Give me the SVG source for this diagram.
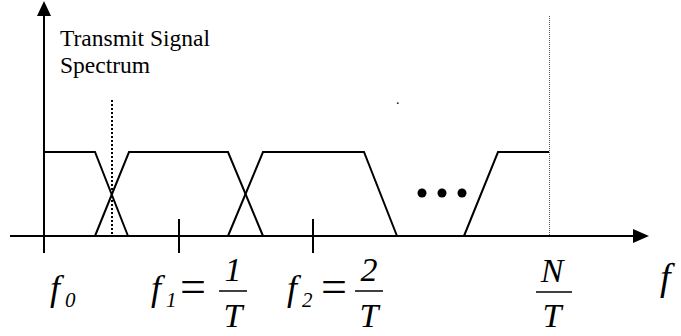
<svg xmlns="http://www.w3.org/2000/svg" width="681" height="336" viewBox="0 0 681 336">
<style>
.ln{fill:none;stroke:#000;stroke-width:2;stroke-linejoin:miter}
text{font-family:Liberation Serif,DejaVu Serif,Noto Serif,serif}
</style>
<rect width="681" height="336" fill="#fff"/>
<g id="axes">
<line class="ln" x1="44" y1="14" x2="44" y2="253"/>
<polygon points="44,1 37,16 51,16" fill="#000"/>
<line class="ln" x1="10" y1="236" x2="635" y2="236"/>
<polygon points="649,236 633,229 633,243" fill="#000"/>
<line class="ln" x1="179" y1="219" x2="179" y2="253"/>
<line class="ln" x1="313" y1="219" x2="313" y2="253"/>
</g>
<g id="guides">
<line x1="112" y1="100" x2="112" y2="236" stroke="#000" stroke-width="2" stroke-dasharray="2 2"/>
<line x1="549.5" y1="16" x2="549.5" y2="236" stroke="#555" stroke-width="1" stroke-dasharray="1 1"/>
</g>
<g id="spectra">
<path class="ln" d="M44,152 L95,152 L128,236"/>
<path class="ln" d="M95,236 L129,152 L228,152 L263,236"/>
<path class="ln" d="M228,236 L263,152 L364,152 L397,236"/>
<path class="ln" d="M464,236 L498,152 L549,152"/>
<circle cx="422" cy="193" r="4.5"/>
<circle cx="442" cy="193" r="4.5"/>
<circle cx="462" cy="193" r="4.5"/>
</g>
<g id="labels" fill="#000">
<text x="60" y="46" font-size="23.5">Transmit Signal</text>
<text x="60" y="73" font-size="23.5">Spectrum</text>
<text x="396" y="104" font-size="14">.</text>
<g font-style="italic">
<text x="50" y="300" font-size="36">f</text>
<text x="65" y="307" font-size="21">0</text>
<text x="151" y="300" font-size="36">f</text>
<text x="166" y="307" font-size="21">1</text>
<text x="233" y="281" font-size="34" text-anchor="middle">1</text>
<text x="233" y="327" font-size="34" text-anchor="middle">T</text>
<text x="287" y="300" font-size="36">f</text>
<text x="302" y="307" font-size="21">2</text>
<text x="369" y="281" font-size="34" text-anchor="middle">2</text>
<text x="369" y="327" font-size="34" text-anchor="middle">T</text>
<text x="552" y="282" font-size="34" text-anchor="middle">N</text>
<text x="552" y="327" font-size="34" text-anchor="middle">T</text>
<text x="660" y="290" font-size="38">f</text>
</g>
<text x="193" y="302" font-size="46" text-anchor="middle">=</text>
<text x="334" y="302" font-size="46" text-anchor="middle">=</text>
</g>
<g id="fraction-bars" stroke="#000" stroke-width="1.5">
<line x1="219" y1="291" x2="247" y2="291"/>
<line x1="355" y1="291" x2="383" y2="291"/>
<line x1="536" y1="292" x2="572" y2="292"/>
</g>
</svg>
